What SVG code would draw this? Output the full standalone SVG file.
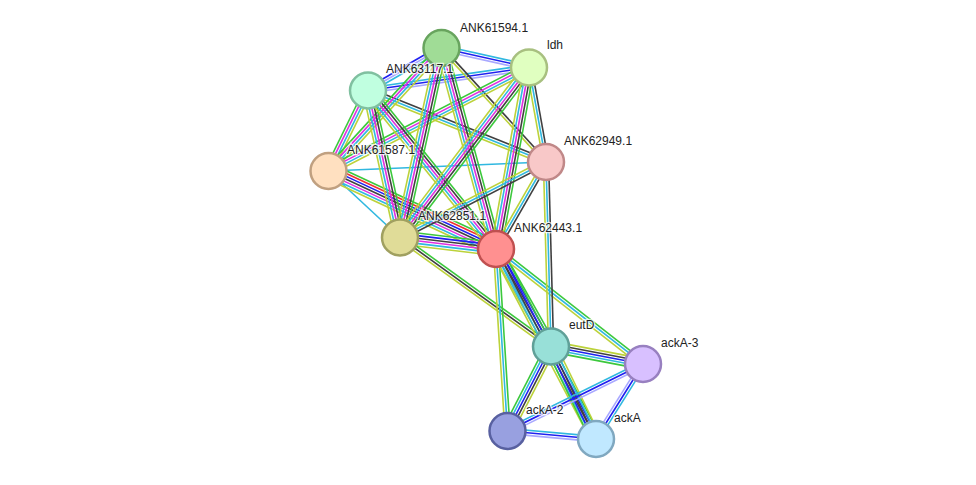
<svg xmlns="http://www.w3.org/2000/svg" width="976" height="485" viewBox="0 0 976 485">
<style>
line{stroke-width:1.6;fill:none}
.ng{stroke:#3cc83c}.fr{stroke:#f03030}.co{stroke:#2020f0}.cx{stroke:#404040}.ex{stroke:#e030e0}.db{stroke:#30b8e0}.tm{stroke:#bcd23a}.ho{stroke:#a8a8ff}
circle{stroke-width:2.5}
text{font-family:"Liberation Sans",Arial,sans-serif;font-size:12px;fill:#222;paint-order:stroke;stroke:#fff;stroke-width:2.5;stroke-opacity:0.75}
</style>
<rect width="976" height="485" fill="#fff"/>
<g id="edges">
<g transform="translate(441.5 48) rotate(12.56)"><line x2="89.6" y1="-2.6" y2="-2.6" class="db"/><line x2="89.6" y1="0" y2="0" class="co"/><line x2="89.6" y1="2.6" y2="2.6" class="ho"/></g>
<g transform="translate(368 90.5) rotate(-8.13)"><line x2="162.6" y1="-2.6" y2="-2.6" class="db"/><line x2="162.6" y1="0" y2="0" class="co"/><line x2="162.6" y1="2.6" y2="2.6" class="ho"/></g>
<g transform="translate(368 90.5) rotate(-30.04)"><line x2="84.9" y1="-2.6" y2="-2.6" class="co"/><line x2="84.9" y1="0" y2="0" class="ho"/><line x2="84.9" y1="2.6" y2="2.6" class="db"/></g>
<g transform="translate(368 90.5) rotate(21.88)"><line x2="191.8" y1="-2.6" y2="-2.6" class="cx"/><line x2="191.8" y1="0" y2="0" class="db"/><line x2="191.8" y1="2.6" y2="2.6" class="tm"/></g>
<g transform="translate(441.5 48) rotate(47.49)"><line x2="154.6" y1="-1.3" y2="-1.3" class="cx"/><line x2="154.6" y1="1.3" y2="1.3" class="tm"/></g>
<g transform="translate(529 67.5) rotate(79.8)"><line x2="96" y1="-2.6" y2="-2.6" class="cx"/><line x2="96" y1="0" y2="0" class="db"/><line x2="96" y1="2.6" y2="2.6" class="tm"/></g>
<g transform="translate(328.5 171) rotate(-2.37)"><line x2="217.7" class="db"/></g>
<g transform="translate(328.5 171) rotate(-63.86)"><line x2="89.7" y1="-3.9" y2="-3.9" class="ng"/><line x2="89.7" y1="-1.3" y2="-1.3" class="ex"/><line x2="89.7" y1="1.3" y2="1.3" class="db"/><line x2="89.7" y1="3.9" y2="3.9" class="tm"/></g>
<g transform="translate(328.5 171) rotate(-47.42)"><line x2="167" y1="-3.9" y2="-3.9" class="ng"/><line x2="167" y1="-1.3" y2="-1.3" class="ex"/><line x2="167" y1="1.3" y2="1.3" class="db"/><line x2="167" y1="3.9" y2="3.9" class="tm"/></g>
<g transform="translate(328.5 171) rotate(-27.3)"><line x2="225.6" y1="-3.9" y2="-3.9" class="ng"/><line x2="225.6" y1="-1.3" y2="-1.3" class="ex"/><line x2="225.6" y1="1.3" y2="1.3" class="db"/><line x2="225.6" y1="3.9" y2="3.9" class="tm"/></g>
<g transform="translate(328.5 171) rotate(42.93)"><line x2="97.6" class="db"/></g>
<g transform="translate(328.5 171) rotate(24.97)"><line x2="184.8" y1="-7.8" y2="-7.8" class="ng"/><line x2="184.8" y1="-5.2" y2="-5.2" class="fr"/><line x2="184.8" y1="-2.6" y2="-2.6" class="co"/><line x2="184.8" y1="0" y2="0" class="cx"/><line x2="184.8" y1="2.6" y2="2.6" class="ex"/><line x2="184.8" y1="5.2" y2="5.2" class="db"/><line x2="184.8" y1="7.8" y2="7.8" class="tm"/></g>
<g transform="translate(368 90.5) rotate(77.72)"><line x2="150.4" y1="-5.2" y2="-5.2" class="ng"/><line x2="150.4" y1="-2.6" y2="-2.6" class="cx"/><line x2="150.4" y1="0" y2="0" class="ex"/><line x2="150.4" y1="2.6" y2="2.6" class="db"/><line x2="150.4" y1="5.2" y2="5.2" class="tm"/></g>
<g transform="translate(368 90.5) rotate(51.08)"><line x2="203.7" y1="-5.2" y2="-5.2" class="ng"/><line x2="203.7" y1="-2.6" y2="-2.6" class="cx"/><line x2="203.7" y1="0" y2="0" class="ex"/><line x2="203.7" y1="2.6" y2="2.6" class="db"/><line x2="203.7" y1="5.2" y2="5.2" class="tm"/></g>
<g transform="translate(441.5 48) rotate(102.35)"><line x2="194" y1="-5.2" y2="-5.2" class="ng"/><line x2="194" y1="-2.6" y2="-2.6" class="cx"/><line x2="194" y1="0" y2="0" class="ex"/><line x2="194" y1="2.6" y2="2.6" class="db"/><line x2="194" y1="5.2" y2="5.2" class="tm"/></g>
<g transform="translate(441.5 48) rotate(74.83)"><line x2="208.3" y1="-5.2" y2="-5.2" class="ng"/><line x2="208.3" y1="-2.6" y2="-2.6" class="cx"/><line x2="208.3" y1="0" y2="0" class="ex"/><line x2="208.3" y1="2.6" y2="2.6" class="db"/><line x2="208.3" y1="5.2" y2="5.2" class="tm"/></g>
<g transform="translate(529 67.5) rotate(127.19)"><line x2="213.4" y1="-5.2" y2="-5.2" class="ng"/><line x2="213.4" y1="-2.6" y2="-2.6" class="cx"/><line x2="213.4" y1="0" y2="0" class="ex"/><line x2="213.4" y1="2.6" y2="2.6" class="db"/><line x2="213.4" y1="5.2" y2="5.2" class="tm"/></g>
<g transform="translate(529 67.5) rotate(100.3)"><line x2="184.5" y1="-5.2" y2="-5.2" class="ng"/><line x2="184.5" y1="-2.6" y2="-2.6" class="cx"/><line x2="184.5" y1="0" y2="0" class="ex"/><line x2="184.5" y1="2.6" y2="2.6" class="db"/><line x2="184.5" y1="5.2" y2="5.2" class="tm"/></g>
<g transform="translate(546 162) rotate(152.66)"><line x2="164.4" y1="-2.6" y2="-2.6" class="cx"/><line x2="164.4" y1="0" y2="0" class="db"/><line x2="164.4" y1="2.6" y2="2.6" class="tm"/></g>
<g transform="translate(546 162) rotate(119.89)"><line x2="100.3" y1="-2.6" y2="-2.6" class="cx"/><line x2="100.3" y1="0" y2="0" class="db"/><line x2="100.3" y1="2.6" y2="2.6" class="tm"/></g>
<g transform="translate(400 237.5) rotate(6.83)"><line x2="96.7" y1="-6.5" y2="-6.5" class="ng"/><line x2="96.7" y1="-3.9" y2="-3.9" class="co"/><line x2="96.7" y1="-1.3" y2="-1.3" class="cx"/><line x2="96.7" y1="1.3" y2="1.3" class="ex"/><line x2="96.7" y1="3.9" y2="3.9" class="db"/><line x2="96.7" y1="6.5" y2="6.5" class="tm"/></g>
<g transform="translate(400 237.5) rotate(35.82)"><line x2="186.2" y1="-2.6" y2="-2.6" class="ng"/><line x2="186.2" y1="0" y2="0" class="cx"/><line x2="186.2" y1="2.6" y2="2.6" class="tm"/></g>
<g transform="translate(496 249) rotate(60.58)"><line x2="111.9" y1="-5.2" y2="-5.2" class="ng"/><line x2="111.9" y1="-2.6" y2="-2.6" class="co"/><line x2="111.9" y1="0" y2="0" class="cx"/><line x2="111.9" y1="2.6" y2="2.6" class="db"/><line x2="111.9" y1="5.2" y2="5.2" class="tm"/></g>
<g transform="translate(496 249) rotate(38.03)"><line x2="186.6" y1="-2.6" y2="-2.6" class="ng"/><line x2="186.6" y1="0" y2="0" class="db"/><line x2="186.6" y1="2.6" y2="2.6" class="tm"/></g>
<g transform="translate(496 249) rotate(86.38)"><line x2="182.4" y1="-2.6" y2="-2.6" class="ng"/><line x2="182.4" y1="0" y2="0" class="db"/><line x2="182.4" y1="2.6" y2="2.6" class="tm"/></g>
<g transform="translate(496 249) rotate(62.24)"><line x2="214.7" y1="-5.2" y2="-5.2" class="ng"/><line x2="214.7" y1="-2.6" y2="-2.6" class="co"/><line x2="214.7" y1="0" y2="0" class="cx"/><line x2="214.7" y1="2.6" y2="2.6" class="db"/><line x2="214.7" y1="5.2" y2="5.2" class="tm"/></g>
<g transform="translate(546 162) rotate(88.45)"><line x2="184.6" y1="-2.6" y2="-2.6" class="cx"/><line x2="184.6" y1="0" y2="0" class="db"/><line x2="184.6" y1="2.6" y2="2.6" class="tm"/></g>
<g transform="translate(551 346.5) rotate(10.77)"><line x2="93.6" y1="-5.2" y2="-5.2" class="tm"/><line x2="93.6" y1="-2.6" y2="-2.6" class="cx"/><line x2="93.6" y1="0" y2="0" class="co"/><line x2="93.6" y1="2.6" y2="2.6" class="db"/><line x2="93.6" y1="5.2" y2="5.2" class="ng"/></g>
<g transform="translate(551 346.5) rotate(117.24)"><line x2="95" y1="-5.2" y2="-5.2" class="tm"/><line x2="95" y1="-2.6" y2="-2.6" class="cx"/><line x2="95" y1="0" y2="0" class="co"/><line x2="95" y1="2.6" y2="2.6" class="db"/><line x2="95" y1="5.2" y2="5.2" class="ng"/></g>
<g transform="translate(551 346.5) rotate(64.06)"><line x2="102.9" y1="-5.2" y2="-5.2" class="tm"/><line x2="102.9" y1="-2.6" y2="-2.6" class="db"/><line x2="102.9" y1="0" y2="0" class="cx"/><line x2="102.9" y1="2.6" y2="2.6" class="co"/><line x2="102.9" y1="5.2" y2="5.2" class="ng"/></g>
<g transform="translate(643 364) rotate(153.69)"><line x2="151.2" y1="-2.6" y2="-2.6" class="ho"/><line x2="151.2" y1="0" y2="0" class="co"/><line x2="151.2" y1="2.6" y2="2.6" class="db"/></g>
<g transform="translate(643 364) rotate(122.07)"><line x2="88.5" y1="-2.6" y2="-2.6" class="db"/><line x2="88.5" y1="0" y2="0" class="co"/><line x2="88.5" y1="2.6" y2="2.6" class="ho"/></g>
<g transform="translate(507.5 431) rotate(5.17)"><line x2="88.9" y1="-2.6" y2="-2.6" class="db"/><line x2="88.9" y1="0" y2="0" class="co"/><line x2="88.9" y1="2.6" y2="2.6" class="ho"/></g>
</g>
<g id="ANK61594.1"><circle cx="441.5" cy="48" r="18" fill="#a0dc96" stroke="#68a45e"/><text x="460" y="32">ANK61594.1</text></g>
<g id="ldh"><circle cx="529" cy="67.5" r="18" fill="#e0ffc0" stroke="#a8c080"/><text x="547" y="49">ldh</text></g>
<g id="ANK63117.1"><circle cx="368" cy="90.5" r="18" fill="#c0ffe0" stroke="#80c0a0"/><text x="386" y="73">ANK63117.1</text></g>
<g id="ANK61587.1"><circle cx="328.5" cy="171" r="18" fill="#ffe0c0" stroke="#c0a080"/><text x="347" y="154">ANK61587.1</text></g>
<g id="ANK62949.1"><circle cx="546" cy="162" r="18" fill="#f8c8c8" stroke="#c08888"/><text x="564" y="145">ANK62949.1</text></g>
<g id="ANK62851.1"><circle cx="400" cy="237.5" r="18" fill="#e0dc98" stroke="#a0a060"/><text x="418" y="220">ANK62851.1</text></g>
<g id="ANK62443.1"><circle cx="496" cy="249" r="18" fill="#ff9090" stroke="#c05050"/><text x="514" y="232">ANK62443.1</text></g>
<g id="eutD"><circle cx="551" cy="346.5" r="18" fill="#98e0d8" stroke="#60a098"/><text x="569" y="329">eutD</text></g>
<g id="ackA-3"><circle cx="643" cy="364" r="18" fill="#d8c0ff" stroke="#9880c0"/><text x="661" y="347">ackA-3</text></g>
<g id="ackA-2"><circle cx="507.5" cy="431" r="18" fill="#98a0e0" stroke="#5860a0"/><text x="526" y="414">ackA-2</text></g>
<g id="ackA"><circle cx="596" cy="439" r="18" fill="#c0e8ff" stroke="#80a8c0"/><text x="614" y="422">ackA</text></g>
</svg>
